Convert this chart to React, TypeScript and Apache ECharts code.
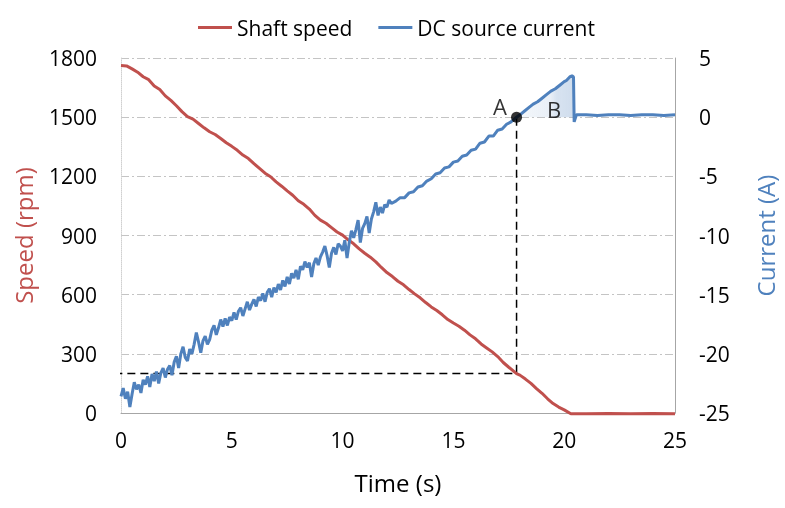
import React, { useEffect, useRef } from 'react';
import * as echarts from 'echarts';

const FONT = 'Open Sans';
const RED = '#C0504D';
const BLUE = '#4F81BD';

// Shaft speed (rpm) vs time (s)
const speedData: number[][] = [
  [0, 1762], [0.25, 1760], [0.5, 1745], [0.75, 1728], [1.0, 1705], [1.25, 1690], [1.5, 1658],
  [1.75, 1640], [2.0, 1608], [2.25, 1585], [2.5, 1558], [2.75, 1528], [3.0, 1503], [3.25, 1490],
  [3.5, 1468], [3.75, 1446], [4.0, 1426], [4.25, 1412], [4.5, 1392], [4.75, 1370], [5.0, 1352],
  [5.25, 1332], [5.5, 1308], [5.75, 1290], [6.0, 1264], [6.25, 1240], [6.5, 1216], [6.75, 1198],
  [7.0, 1172], [7.25, 1150], [7.5, 1126], [7.75, 1104], [8.0, 1076], [8.25, 1058], [8.5, 1034],
  [8.75, 1002], [9.0, 978], [9.25, 962], [9.5, 940], [9.75, 918], [10.0, 902], [10.25, 878],
  [10.5, 858], [10.75, 832], [11.0, 810], [11.25, 790], [11.5, 766], [11.75, 738], [12.0, 712],
  [12.25, 692], [12.5, 668], [12.75, 650], [13.0, 626], [13.25, 604], [13.5, 584], [13.75, 560],
  [14.0, 538], [14.25, 520], [14.5, 498], [14.75, 474], [15.0, 456], [15.25, 440], [15.5, 420],
  [15.75, 396], [16.0, 376], [16.25, 350], [16.5, 330], [16.75, 310], [17.0, 286], [17.25, 256],
  [17.5, 232], [17.85, 200], [18.0, 192], [18.25, 172], [18.5, 150], [18.75, 124], [19.0, 100],
  [19.25, 72], [19.5, 48], [19.75, 30], [20.0, 16], [20.3, -4],
  [21, -4], [22, -3], [23, -4], [24, -3], [25, -4],
];

// DC source current (A) vs time (s)
const currentData: number[][] = [
  [0.0, -23.6], [0.1, -22.9], [0.2, -23.8], [0.3, -23.2], [0.4, -24.5], [0.5, -23.4],
  [0.6, -22.4], [0.7, -23.0], [0.8, -22.6], [0.9, -23.3], [1.0, -22.2], [1.1, -22.6],
  [1.2, -21.9], [1.3, -22.8], [1.4, -21.7], [1.5, -22.3], [1.6, -21.5], [1.7, -22.5],
  [1.8, -21.6], [1.9, -21.2], [2.0, -22.0], [2.1, -21.3], [2.2, -21.0], [2.3, -21.8],
  [2.4, -20.7], [2.5, -20.2], [2.6, -21.2], [2.7, -20.0], [2.8, -19.4], [2.9, -20.3],
  [3.0, -20.6], [3.1, -19.6], [3.2, -20.0], [3.3, -19.2], [3.4, -18.2], [3.5, -19.0],
  [3.6, -19.9], [3.7, -18.9], [3.8, -18.5], [3.9, -19.2], [4.0, -18.8], [4.1, -18.0],
  [4.2, -17.6], [4.3, -18.4], [4.4, -17.8], [4.5, -17.1], [4.6, -17.7], [4.7, -17.0],
  [4.8, -17.6], [4.9, -16.9], [5.0, -17.2], [5.1, -16.5], [5.2, -17.1], [5.3, -16.4],
  [5.4, -16.1], [5.5, -16.8], [5.6, -16.2], [5.7, -15.6], [5.8, -16.3], [5.9, -15.8],
  [6.0, -15.4], [6.1, -16.0], [6.2, -15.2], [6.3, -15.5], [6.4, -14.9], [6.5, -15.6],
  [6.6, -14.8], [6.7, -14.5], [6.8, -15.2], [6.9, -14.4], [7.0, -14.8], [7.1, -14.1],
  [7.2, -14.6], [7.3, -13.8], [7.4, -14.3], [7.5, -13.5], [7.6, -14.1], [7.7, -13.2],
  [7.8, -13.6], [7.9, -12.9], [8.0, -13.7], [8.1, -12.6], [8.2, -12.9], [8.3, -12.2],
  [8.4, -12.7], [8.5, -12.3], [8.6, -13.5], [8.7, -12.4], [8.8, -11.9], [8.9, -12.5],
  [9.0, -11.8], [9.1, -11.4], [9.2, -10.9], [9.3, -11.7], [9.4, -12.7], [9.5, -11.5],
  [9.6, -11.0], [9.7, -11.6], [9.8, -10.7], [9.9, -10.9], [10.0, -11.3], [10.1, -10.4],
  [10.2, -11.9], [10.3, -10.6], [10.4, -9.6], [10.5, -10.2], [10.6, -9.5], [10.7, -8.7],
  [10.8, -10.6], [10.9, -9.4], [11.0, -9.0], [11.1, -8.4], [11.2, -9.8], [11.3, -8.6],
  [11.4, -8.0], [11.5, -7.2], [11.6, -8.3], [11.7, -7.6], [11.8, -8.1], [11.9, -7.4],
  [12.0, -7.6], [12.1, -7.0], [12.2, -7.3], [12.4, -7.1], [12.6, -6.8], [12.8, -6.8],
  [13.0, -6.4], [13.2, -6.3], [13.4, -5.9], [13.6, -5.8], [13.8, -5.4], [14.0, -5.2],
  [14.2, -4.8], [14.4, -4.7], [14.6, -4.3], [14.8, -4.2], [15.0, -3.8], [15.2, -3.7],
  [15.4, -3.3], [15.6, -3.2], [15.8, -2.8], [16.0, -2.7], [16.2, -2.2], [16.4, -2.1],
  [16.6, -1.6], [16.8, -1.6], [17.0, -1.1], [17.2, -1.0], [17.4, -0.6], [17.6, -0.4],
  [17.85, 0], [18.0, 0.2], [18.2, 0.5], [18.4, 0.8], [18.6, 1.1], [18.8, 1.3], [19.0, 1.6],
  [19.2, 1.9], [19.4, 2.2], [19.6, 2.4], [19.8, 2.7], [20.0, 3.0], [20.1, 3.1], [20.25, 3.4],
  [20.35, 3.5], [20.42, 3.4], [20.45, -0.4], [20.55, 0.2], [21, 0.2], [21.5, 0.15], [22, 0.2],
  [22.5, 0.2], [23, 0.15], [23.5, 0.2], [24, 0.2], [24.5, 0.15], [25, 0.2],
];

const shadeStart = 17.85;
const shadeEnd = 20.42;
const pointA = [17.85, 1500];
const dashSpeed = 200;
const dashStartTime = -0.3;
const labelA = [17.1, 1557];
const labelB = [19.55, 1539];

const xTicks = { min: 0, max: 25, interval: 5 };
const speedTicks = { min: 0, max: 1800, interval: 300 };
const currentTicks = { min: -25, max: 5, interval: 5 };

export default function App() {
  const ref = useRef<HTMLDivElement>(null);
  useEffect(() => {
    const chart = echarts.init(ref.current!, null, { renderer: 'svg' });
    const shadeData = currentData.filter((d) => d[0] >= shadeStart && d[0] <= shadeEnd);
    const dashData = [
      [dashStartTime, dashSpeed],
      [pointA[0], dashSpeed],
      [pointA[0], pointA[1]],
    ];
    chart.setOption({
      animation: false,
      textStyle: { fontFamily: FONT },
      legend: {
        data: ['Shaft speed', 'DC source current'],
        top: 12,
        left: 193,
        icon: 'rect',
        itemWidth: 34,
        itemHeight: 3,
        itemGap: 26,
        textStyle: { fontSize: 21, color: '#000', fontFamily: FONT },
      },
      grid: { left: 121, right: 106, top: 58, bottom: 95 },
      xAxis: {
        type: 'value',
        ...xTicks,
        axisLine: { lineStyle: { color: '#a6a6a6', width: 1 } },
        axisTick: { show: false },
        splitLine: { show: false },
        axisLabel: { fontSize: 21, color: '#000', margin: 16, fontFamily: FONT },
        name: 'Time (s)',
        nameLocation: 'middle',
        nameGap: 57,
        nameTextStyle: { fontSize: 24, color: '#000', fontFamily: FONT },
      },
      yAxis: [
        {
          type: 'value',
          position: 'left',
          ...speedTicks,
          axisLine: { show: true, lineStyle: { color: '#d0d0d0', type: 'dotted' } },
          axisTick: { show: false },
          axisLabel: {
            fontSize: 21,
            color: '#000',
            margin: 24,
            fontFamily: FONT,
            formatter: (v: number) => String(v),
          },
          splitLine: { lineStyle: { color: '#c4c4c4', type: [8, 3, 2, 3], width: 1 } },
          name: 'Speed (rpm)',
          nameLocation: 'middle',
          nameGap: 86,
          nameTextStyle: { fontSize: 24, color: RED, fontFamily: FONT },
        },
        {
          type: 'value',
          position: 'right',
          ...currentTicks,
          axisLine: { show: true, lineStyle: { color: '#a6a6a6' } },
          axisTick: { show: false },
          axisLabel: {
            fontSize: 21,
            color: '#000',
            margin: 24,
            fontFamily: FONT,
            formatter: (v: number) => String(v),
          },
          splitLine: { show: false },
          name: 'Current (A)',
          nameLocation: 'middle',
          nameGap: 78,
          nameTextStyle: { fontSize: 24, color: BLUE, fontFamily: FONT },
        },
      ],
      series: [
        {
          name: 'shade',
          type: 'line',
          yAxisIndex: 1,
          data: shadeData,
          symbol: 'none',
          lineStyle: { width: 0 },
          areaStyle: {
            origin: 0,
            color: new echarts.graphic.LinearGradient(0, 0, 1, 0, [
              { offset: 0, color: 'rgba(79,129,189,0.08)' },
              { offset: 0.6, color: 'rgba(79,129,189,0.18)' },
              { offset: 0.7, color: 'rgba(79,129,189,0.32)' },
              { offset: 1, color: 'rgba(79,129,189,0.38)' },
            ]),
          },
          z: 1,
          silent: true,
        },
        {
          name: 'guides',
          type: 'line',
          yAxisIndex: 0,
          data: dashData,
          symbol: 'none',
          clip: false,
          lineStyle: { color: '#000', type: [8, 5], width: 1.5 },
          z: 2,
          silent: true,
        },
        {
          name: 'Shaft speed',
          type: 'line',
          yAxisIndex: 0,
          data: speedData,
          symbol: 'none',
          clip: false,
          color: RED,
          lineStyle: { color: RED, width: 3 },
          z: 3,
        },
        {
          name: 'DC source current',
          type: 'line',
          yAxisIndex: 1,
          data: currentData,
          symbol: 'none',
          color: BLUE,
          lineStyle: { color: BLUE, width: 3 },
          z: 4,
        },
        {
          name: 'pointA',
          type: 'scatter',
          yAxisIndex: 0,
          data: [pointA],
          symbolSize: 11,
          itemStyle: { color: '#000' },
          z: 6,
          silent: true,
        },
        {
          name: 'labels',
          type: 'scatter',
          yAxisIndex: 0,
          data: [
            { name: 'A', value: labelA },
            { name: 'B', value: labelB },
          ],
          symbolSize: 1,
          itemStyle: { color: 'rgba(0,0,0,0)' },
          label: {
            show: true,
            position: 'inside',
            formatter: '{b}',
            fontSize: 22,
            color: '#000',
            fontFamily: FONT,
          },
          z: 7,
          silent: true,
        },
      ],
    });
    return () => chart.dispose();
  }, []);
  return (
    <div
      ref={ref}
      style={{ position: 'fixed', left: 0, top: 0, width: 785, height: 508 }}
    />
  );
}
